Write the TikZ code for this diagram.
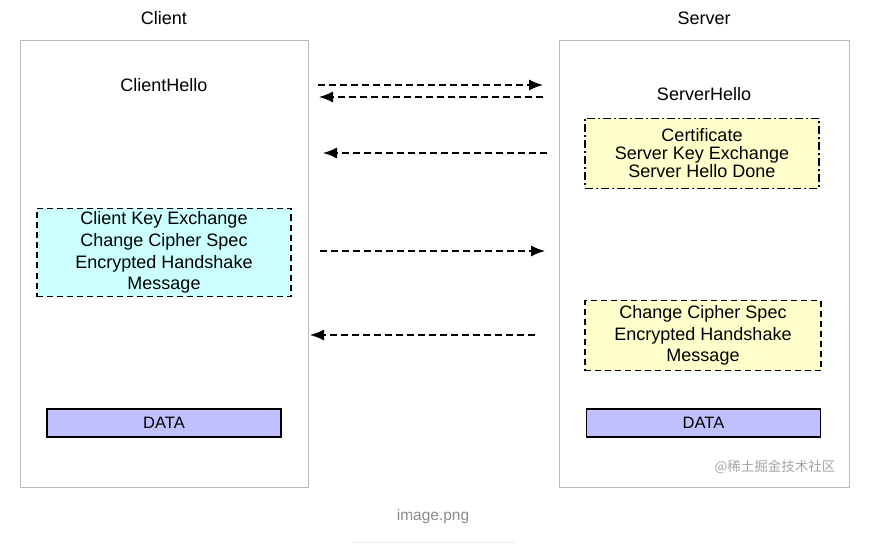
\documentclass[tikz,border=0pt]{standalone}
\usepackage{fontspec}
\setmainfont{Liberation Sans}
\newfontfamily\cjkfont{Noto Sans CJK SC}
\usetikzlibrary{arrows.meta, positioning, calc}

\definecolor{panelgray}{RGB}{185,185,185}
\definecolor{msgyellow}{RGB}{255,255,204}
\definecolor{msgcyan}{RGB}{204,255,255}
\definecolor{datablue}{RGB}{192,192,255}
\definecolor{markgray}{RGB}{165,165,165}

\begin{document}
\begin{tikzpicture}[x=1pt, y=-1pt,
    panel/.style={draw=panelgray, line width=0.8pt, minimum height=447pt, inner sep=0pt},
    title/.style={font=\fontsize{18}{21}\selectfont},
    msgbox/.style={draw, line width=1.3pt, align=center, inner sep=0pt,
      font=\fontsize{18}{21.7}\selectfont},
    dashbox/.style={msgbox, dash pattern=on 6pt off 4pt},
    dotbox/.style={msgbox, dash pattern=on 8pt off 3pt on 2pt off 3pt},
    databox/.style={draw, line width=1.2pt, fill=datablue, minimum width=234pt,
      minimum height=28pt, inner sep=0pt, font=\fontsize{16.5}{18}\selectfont},
    msg/.style={line width=1.3pt, dash pattern=on 7pt off 4pt,
      -{Latex[length=14pt, width=11pt]}}]
  \useasboundingbox (0,0) rectangle (877,553);

  % the two sides
  \node[panel, minimum width=288pt] (client) at (164,263.5) {};
  \node[panel, minimum width=290pt] (server) at (704,263.5) {};
  \node[title] (clientlbl) at (164,18) {Client};
  \node[title] (serverlbl) at (704,18) {Server};

  % client side
  \node[title] (chello) at (164,85) {ClientHello};
  \node[dashbox, fill=msgcyan, minimum width=254pt, minimum height=88pt]
    (ckex) at (164,252.5) {Client Key Exchange\\Change Cipher Spec\\Encrypted Handshake\\Message};
  \node[databox] (cdata) at (164,423) {DATA};

  % server side
  \node[title] (shello) at (704,94) {ServerHello};
  \node[dotbox, fill=msgyellow, minimum width=234pt, minimum height=70pt,
    font=\fontsize{18}{18}\selectfont]
    (scert) at (702,153.5) {Certificate\\Server Key Exchange\\Server Hello Done};
  \node[dashbox, fill=msgyellow, minimum width=236pt, minimum height=70pt]
    (sccs) at (703,335.5) {Change Cipher Spec\\Encrypted Handshake\\Message};
  \node[databox] (sdata) at (703.5,423) {DATA};

  % messages
  \coordinate (m1a) at (318,85);  \coordinate (m1b) at (543,85);
  \coordinate (m2a) at (543,97);  \coordinate (m2b) at (319,97);
  \coordinate (m3a) at (547,153); \coordinate (m3b) at (323,153);
  \coordinate (m4a) at (320,251); \coordinate (m4b) at (545,251);
  \coordinate (m5a) at (535,335); \coordinate (m5b) at (310,335);
  \draw[msg] (m1a) -- (m1b);
  \draw[msg] (m2a) -- (m2b);
  \draw[msg] (m3a) -- (m3b);
  \draw[msg] (m4a) -- (m4b);
  \draw[msg] (m5a) -- (m5b);

  % watermark and caption
  \node[text=markgray, font=\cjkfont\fontsize{13.5}{15}\selectfont] (mark) at (775,467) {@稀土掘金技术社区};
  \node[text=black!45, font=\fontsize{15.5}{18}\selectfont] (caption) at (433,516) {image.png};
  \coordinate (rulea) at (352,542); \coordinate (ruleb) at (516,542);
  \draw[black!8, line width=1pt] (rulea) -- (ruleb);
\end{tikzpicture}
\end{document}
